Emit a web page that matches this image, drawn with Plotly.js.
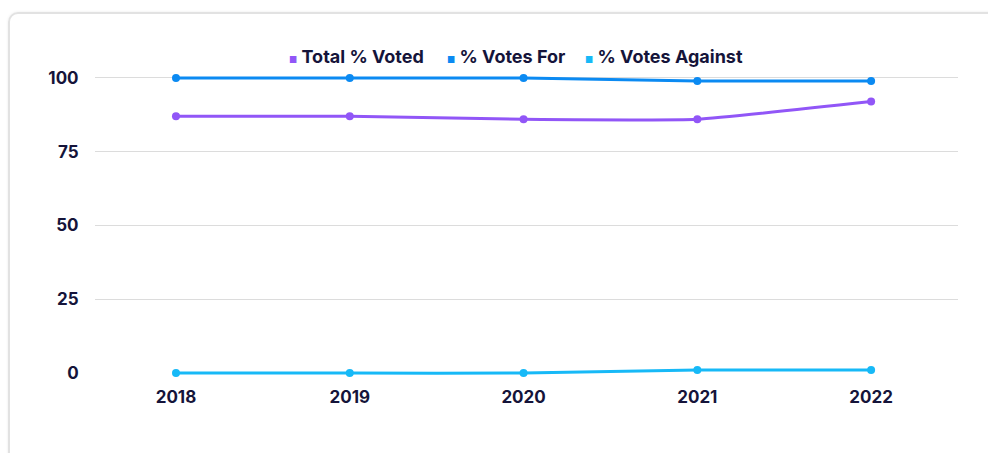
<!DOCTYPE html>
<html>
<head>
<meta charset="utf-8">
<script src="https://cdn.plot.ly/plotly-3.0.1.min.js"></script>
<style>
  html, body { margin: 0; padding: 0; background: #ffffff; width: 988px; height: 453px; overflow: hidden; }
  #card { position: absolute; left: 8px; top: 12px; width: 1000px; height: 470px; border: 2px solid #e2e2e2; border-radius: 10px; box-sizing: border-box; box-shadow: 0 0 3px rgba(0,0,0,0.08); }
  #chart { position: absolute; left: 0; top: 0; width: 988px; height: 453px; }
</style>
</head>
<body>
<div id="card"></div>
<div id="chart"></div>
<script>
const years = ["2018", "2019", "2020", "2021", "2022"];
const totalVoted = [87, 87, 86, 86, 92];
const votesFor = [100, 100, 100, 99, 99];
const votesAgainst = [0, 0, 0, 1, 1];
const seriesNames = ["Total % Voted", "% Votes For", "% Votes Against"];
const seriesColors = ["#9156f7", "#0b8af2", "#17b9f7"];
const yTicks = [0, 25, 50, 75, 100];

const seriesData = [totalVoted, votesFor, votesAgainst];
const traces = [];
seriesData.forEach((vals, i) => {
  traces.push({
    x: years, y: vals, type: "scatter", mode: "lines+markers",
    name: seriesNames[i], showlegend: false, cliponaxis: false,
    line: { color: seriesColors[i], width: 3, shape: "spline", smoothing: 0.4 },
    marker: { color: seriesColors[i], size: 8 },
    hoverinfo: "x+y+name"
  });
});

// legend drawn as text annotations (square symbol + label)
const legendX = [0.222, 0.405, 0.566];
const annotations = seriesNames.map((n, i) => ({
  xref: "paper", yref: "paper", x: legendX[i], y: 1.0, yanchor: "bottom", xanchor: "left", yshift: 6,
  showarrow: false,
  text: '<span style="color:' + seriesColors[i] + ';font-size:9px">■</span> ' + n,
  font: { size: 18, color: "#15143a", weight: 700, family: "Inter, sans-serif" }
}));

const layout = {
  width: 988, height: 453,
  paper_bgcolor: "rgba(0,0,0,0)", plot_bgcolor: "rgba(0,0,0,0)",
  margin: { l: 95, r: 30, t: 75, b: 77 },
  font: { family: "Inter, 'Open Sans', sans-serif", color: "#15143a", size: 17, weight: 700 },
  showlegend: false,
  annotations: annotations,
  xaxis: {
    type: "category", range: [-0.466, 4.5],
    showgrid: false, zeroline: false, showline: false,
    ticks: "outside", ticklen: 6, tickcolor: "rgba(0,0,0,0)",
    tickfont: { size: 17, color: "#15143a", weight: 700 }
  },
  yaxis: {
    range: [-1, 101], tickvals: yTicks,
    showgrid: true, gridcolor: "#dcdcdc", gridwidth: 1,
    zeroline: true, zerolinecolor: "rgba(0,0,0,0)", showline: false,
    ticks: "outside", ticklen: 12, tickcolor: "rgba(0,0,0,0)",
    tickfont: { size: 17, color: "#15143a", weight: 700 }
  }
};

Plotly.newPlot("chart", traces, layout, { displayModeBar: false });
</script>
</body>
</html>
